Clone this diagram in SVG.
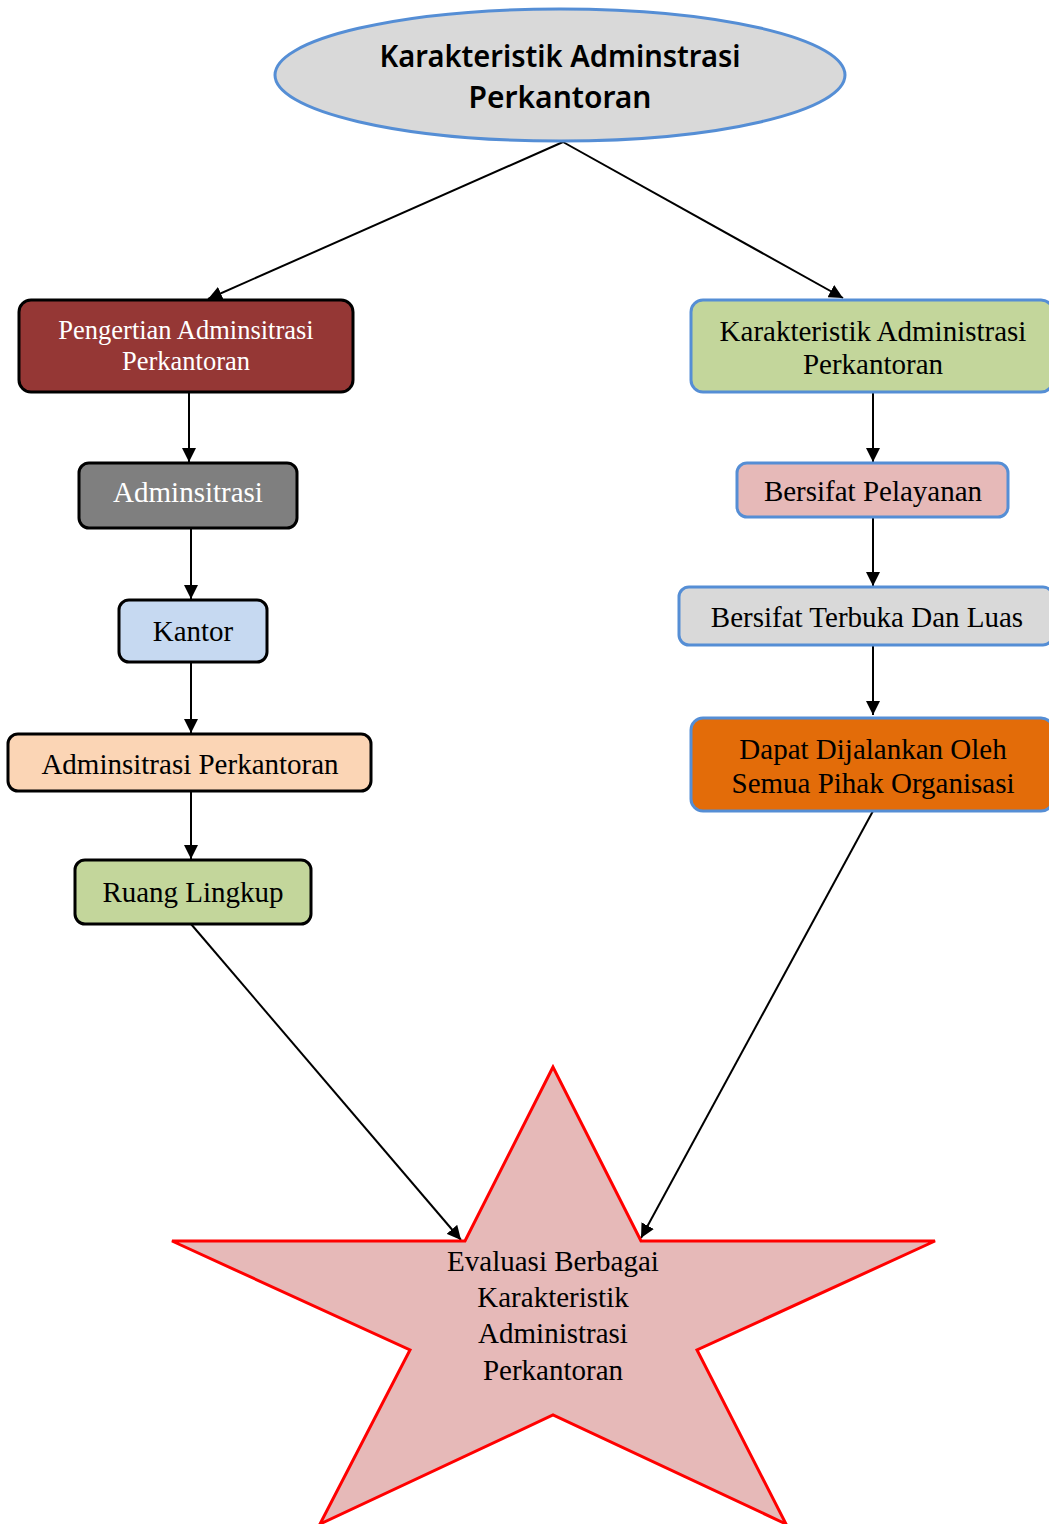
<svg xmlns="http://www.w3.org/2000/svg" width="1049" height="1524" viewBox="0 0 1049 1524">
<style>
.t{font-family:"Liberation Serif","Times New Roman",serif;font-size:29px;text-anchor:middle;fill:#000}
.w{fill:#fff}
.bk{stroke:#000;stroke-width:3}
.bl{stroke:#558ED5;stroke-width:3}
.c{stroke:#000;stroke-width:2;fill:none;marker-end:url(#ah)}
.h{font-family:"Noto Sans","DejaVu Sans",sans-serif;font-size:30px;font-weight:600;text-anchor:middle;fill:#000}
</style>
<defs>
<marker id="ah" viewBox="0 0 10 10" refX="10" refY="5" markerWidth="7" markerHeight="7" markerUnits="strokeWidth" orient="auto">
<path d="M0,0 L10,5 L0,10 z" fill="#000"/>
</marker>
</defs>
<rect width="1049" height="1524" fill="#fff"/>
<g id="connectors">
<line class="c" x1="563" y1="142" x2="208" y2="299"/>
<line class="c" x1="563" y1="142" x2="843" y2="298"/>
<line class="c" x1="189" y1="392" x2="189" y2="462"/>
<line class="c" x1="191" y1="528" x2="191" y2="599"/>
<line class="c" x1="191" y1="662" x2="191" y2="733"/>
<line class="c" x1="191" y1="791" x2="191" y2="859"/>
<line class="c" x1="191" y1="924" x2="461" y2="1240"/>
<line class="c" x1="873" y1="392" x2="873" y2="462"/>
<line class="c" x1="873" y1="517" x2="873" y2="586"/>
<line class="c" x1="873" y1="645" x2="873" y2="715"/>
<line class="c" x1="873" y1="811" x2="641" y2="1238"/>
</g>
<g id="root">
<ellipse cx="560" cy="75" rx="285" ry="66" fill="#D9D9D9" class="bl"/>
<text class="h" x="560" y="67" textLength="361" lengthAdjust="spacingAndGlyphs">Karakteristik Adminstrasi</text>
<text class="h" x="560" y="108" textLength="183" lengthAdjust="spacingAndGlyphs">Perkantoran</text>
</g>
<g id="pengertian">
<rect x="19" y="300" width="334" height="92" rx="12" fill="#953735" class="bk"/>
<text class="t w" x="186" y="339" style="font-size:26.5px">Pengertian Adminsitrasi</text>
<text class="t w" x="186" y="370" style="font-size:26.5px">Perkantoran</text>
</g>
<g id="adminsitrasi">
<rect x="79" y="463" width="218" height="65" rx="10" fill="#7F7F7F" class="bk"/>
<text class="t w" x="188" y="502">Adminsitrasi</text>
</g>
<g id="kantor">
<rect x="119" y="600" width="148" height="62" rx="10" fill="#C6D9F1" class="bk"/>
<text class="t" x="193" y="641">Kantor</text>
</g>
<g id="adm-perkantoran">
<rect x="8" y="734" width="363" height="57" rx="10" fill="#FBD5B5" class="bk"/>
<text class="t" x="190" y="774">Adminsitrasi Perkantoran</text>
</g>
<g id="ruang">
<rect x="75" y="860" width="236" height="64" rx="10" fill="#C3D69B" class="bk"/>
<text class="t" x="193" y="902">Ruang Lingkup</text>
</g>
<g id="karakteristik">
<rect x="691" y="300" width="362" height="92" rx="12" fill="#C3D69B" class="bl"/>
<text class="t" x="873" y="341">Karakteristik Administrasi</text>
<text class="t" x="873" y="374">Perkantoran</text>
</g>
<g id="pelayanan">
<rect x="737" y="463" width="271" height="54" rx="10" fill="#E6B9B8" class="bl"/>
<text class="t" x="873" y="501">Bersifat Pelayanan</text>
</g>
<g id="terbuka">
<rect x="679" y="587" width="374" height="58" rx="10" fill="#D9D9D9" class="bl"/>
<text class="t" x="867" y="627">Bersifat Terbuka Dan Luas</text>
</g>
<g id="dapat">
<rect x="691" y="718" width="362" height="93" rx="12" fill="#E36C09" class="bl"/>
<text class="t" x="873" y="759">Dapat Dijalankan Oleh</text>
<text class="t" x="873" y="793">Semua Pihak Organisasi</text>
</g>
<g id="evaluasi">
<polygon points="553,1067 465,1241 172,1241 410,1350 320,1524 553,1415 786,1524 697,1350 935,1241 641,1241" fill="#E6B9B8" stroke="#FF0000" stroke-width="3"/>
<text class="t" x="553" y="1271">Evaluasi Berbagai</text>
<text class="t" x="553" y="1307">Karakteristik</text>
<text class="t" x="553" y="1343">Administrasi</text>
<text class="t" x="553" y="1380">Perkantoran</text>
</g>
</svg>
